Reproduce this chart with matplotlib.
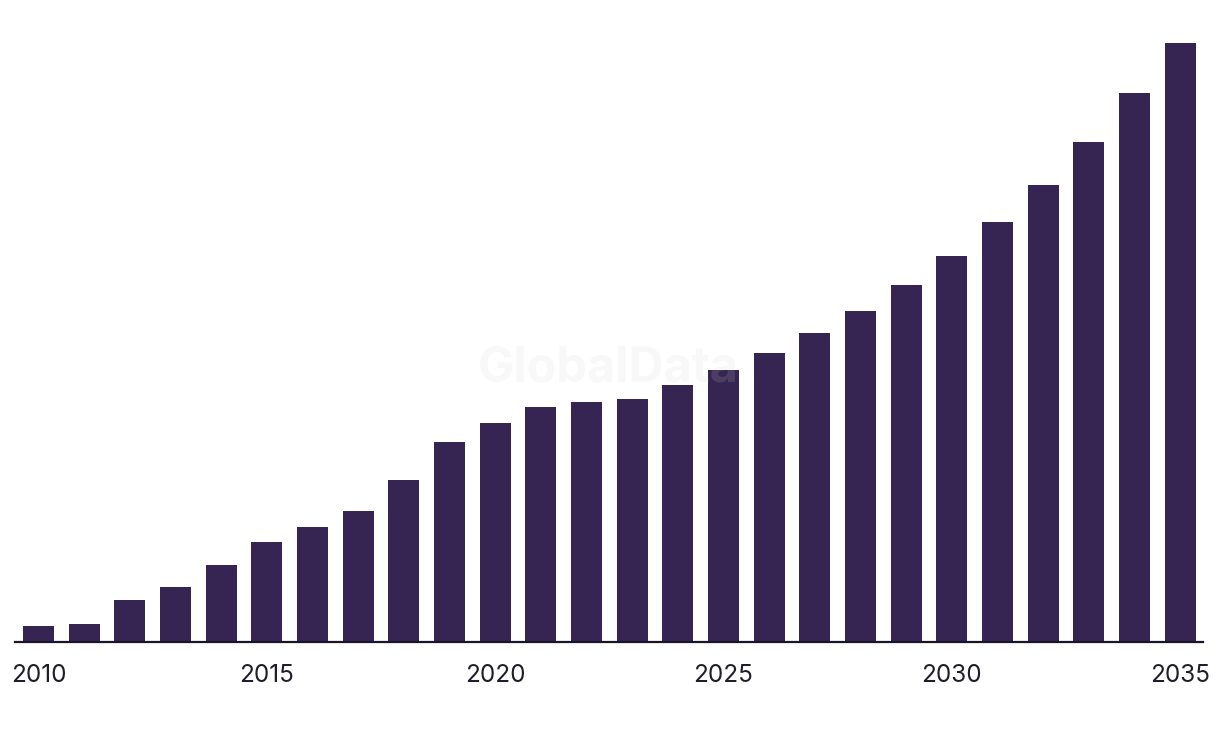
import matplotlib
matplotlib.use('Agg')
import matplotlib.pyplot as plt

# Data
years = list(range(2010, 2036))
values = [16, 18, 42, 55, 77, 100, 115, 131, 162, 200, 219, 235, 240,
          243, 257, 272, 289, 309, 331, 357, 386, 420, 457, 500, 549, 599]
tick_years = [2010, 2015, 2020, 2025, 2030, 2035]

plt.rcParams['font.family'] = ['Inter', 'DejaVu Sans']

W, H = 1220, 738
fig = plt.figure(figsize=(W / 100, H / 100), dpi=100)
ax = fig.add_axes([15 / W, (H - 641.5) / H, (1203 - 15) / W, 601 / H])

ax.bar(years, values, width=0.68, color='#362452', zorder=2)

ax.set_xlim(2009.485, 2035.5)
ax.set_ylim(0, 601)
ax.set_xticks(tick_years)
ax.set_xticklabels([str(y) for y in tick_years])
ax.tick_params(axis='x', length=0, pad=16, labelsize=17.5, labelcolor='#1e1e2a')
ax.set_yticks([])

for side in ['top', 'right', 'left']:
    ax.spines[side].set_visible(False)
ax.spines['bottom'].set_color('#1a1528')
ax.spines['bottom'].set_linewidth(1.6)
ax.spines['bottom'].set_zorder(3)

# Watermark
fig.text(608 / W, 1 - 368 / H, 'GlobalData', ha='center', va='center',
         fontsize=35, fontweight='bold', color='#d0d0d0', alpha=0.15, zorder=5)

fig.savefig('out.png', dpi=100)
